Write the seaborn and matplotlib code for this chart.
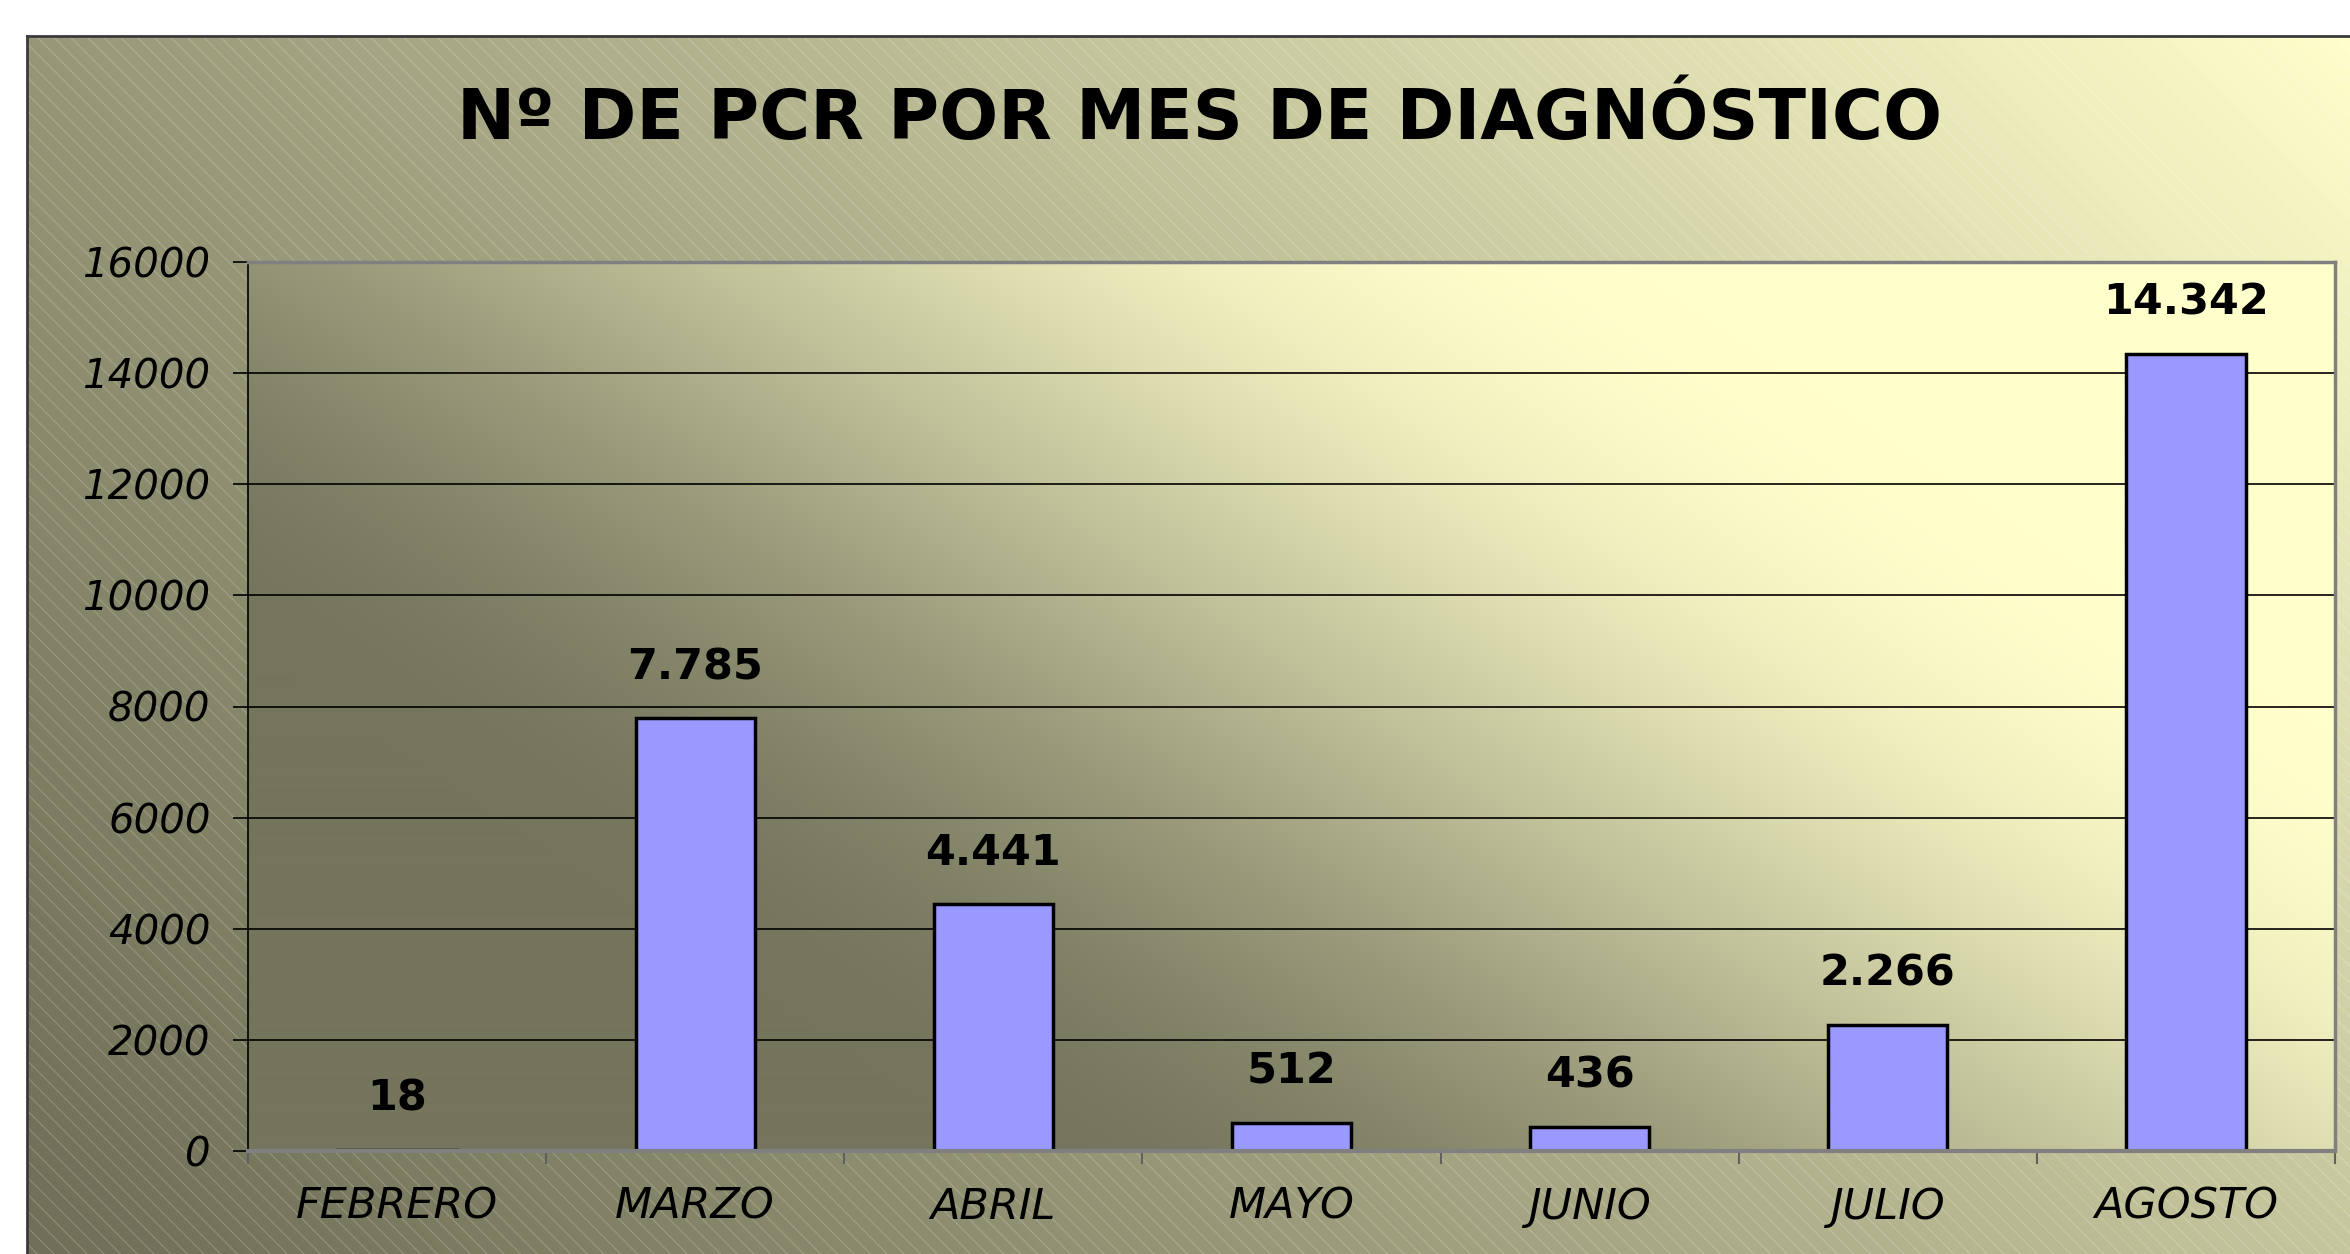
import numpy as np
import matplotlib
matplotlib.use("Agg")
import matplotlib.pyplot as plt
import seaborn as sns
from matplotlib.patches import Rectangle
from matplotlib.ticker import FixedLocator

# ---- data ----
months = ["FEBRERO", "MARZO", "ABRIL", "MAYO", "JUNIO", "JULIO", "AGOSTO"]
pcr_counts = [18, 7785, 4441, 512, 436, 2266, 14342]
y_ticks = [0, 2000, 4000, 6000, 8000, 10000, 12000, 14000, 16000]
title_text = "Nº DE PCR POR MES DE DIAGNÓSTICO"

sns.set_style("white")
plt.rcParams["font.family"] = ["DejaVu Sans"]
plt.rcParams["hatch.linewidth"] = 0.8
for k in ["text.color", "xtick.color", "ytick.color", "xtick.labelcolor",
          "ytick.labelcolor", "axes.labelcolor"]:
    plt.rcParams[k] = "black"

W, H = 2350, 1254
fig = plt.figure(figsize=(W / 100, H / 100), dpi=100)
fig.patch.set_facecolor("white")


def gradient(w, h, dark, light, ky, u0, u1, mode):
    xs = np.arange(w)[None, :]
    ys = np.arange(h)[:, None]
    u = xs + ky * (h - ys)
    t = np.clip((u - u0) / (u1 - u0), 0, 1)
    if mode == "smooth":
        t = t * t * (3 - 2 * t)
    else:
        t = t ** mode
    dark = np.array(dark, float) / 255
    light = np.array(light, float) / 255
    return dark[None, None, :] * (1 - t[..., None]) + light[None, None, :] * t[..., None]


# ---- outer chart frame ----
fx0, fy0 = 27, 36
bg = fig.add_axes([fx0 / W, 0, 1 - fx0 / W, 1 - fy0 / H])
fw, fh = W - fx0, H - fy0
bg.imshow(gradient(fw, fh, (112, 112, 88), (255, 255, 204), 1.0, 0, fw + fh, 1.2),
          extent=(0, 1, 0, 1), aspect="auto", transform=bg.transAxes, zorder=0)
bg.add_patch(Rectangle((0, 0), 1, 1, transform=bg.transAxes, facecolor="none",
                       edgecolor=(1, 1, 1, 0.2), hatch="\\\\", linewidth=0, zorder=1))
bg.set_xlim(0, 1)
bg.set_ylim(0, 1)
bg.set_xticks([])
bg.set_yticks([])
for s in ["right", "bottom"]:
    bg.spines[s].set_visible(False)
for s in ["left", "top"]:
    bg.spines[s].set_color("#3a3a3a")
    bg.spines[s].set_linewidth(2)

# ---- plot area ----
px0, px1, py0, py1 = 248, 2335, 262, 1151
ax = fig.add_axes([px0 / W, (H - py1) / H, (px1 - px0) / W, (py1 - py0) / H])
pw, ph = px1 - px0, py1 - py0
ax.imshow(gradient(pw, ph, (117, 117, 93), (255, 255, 204), 1.5, 750, 2700, "smooth"),
          extent=(0, 1, 0, 1), aspect="auto", transform=ax.transAxes, zorder=0)

sns.barplot(x=months, y=pcr_counts, color="#9999FF", saturation=1, width=0.4,
            edgecolor="black", linewidth=2.5, ax=ax, zorder=2)

ax.set_xlim(-0.5, len(months) - 0.5)
ax.set_ylim(0, 16000)
ax.set_xlabel("")
ax.set_ylabel("")

# gridlines
for yv in y_ticks[1:-1]:
    ax.axhline(yv, color="black", linewidth=1.2, zorder=1)

ax.yaxis.set_major_locator(FixedLocator(y_ticks))
ax.set_yticklabels([str(v) for v in y_ticks], fontsize=29, fontstyle="italic")
ax.tick_params(axis="y", which="major", direction="out", length=11, width=1.2,
               color="black", pad=16, left=True)

ax.set_xticks(range(len(months)))
ax.set_xticklabels(months, fontsize=31, fontstyle="italic")
ax.xaxis.set_minor_locator(FixedLocator(np.arange(-0.5, len(months), 1.0)))
ax.tick_params(axis="x", which="major", length=0, pad=25, bottom=True)
ax.tick_params(axis="x", which="minor", direction="out", length=9, width=1.5,
               color="#606060", bottom=True)

ax.spines["left"].set_color("black")
ax.spines["left"].set_linewidth(1.2)
for s in ["top", "right", "bottom"]:
    ax.spines[s].set_color("#808080")
    ax.spines[s].set_linewidth(2.5)
    ax.spines[s].set_visible(True)
ax.spines["bottom"].set_zorder(4)
ax.spines["bottom"].set_linewidth(3)

# data labels
for i, v in enumerate(pcr_counts):
    ax.annotate(f"{v:,}".replace(",", "."), xy=(i, v), xytext=(0, 37),
                textcoords="offset points", ha="center", va="center",
                fontsize=31, fontweight="bold", color="black", zorder=5)

fig.text(1200 / W, 1 - 119 / H, title_text, ha="center", va="center",
         fontsize=50, fontweight="bold", color="black")

fig.savefig("out.png", dpi=100, facecolor=fig.get_facecolor())
